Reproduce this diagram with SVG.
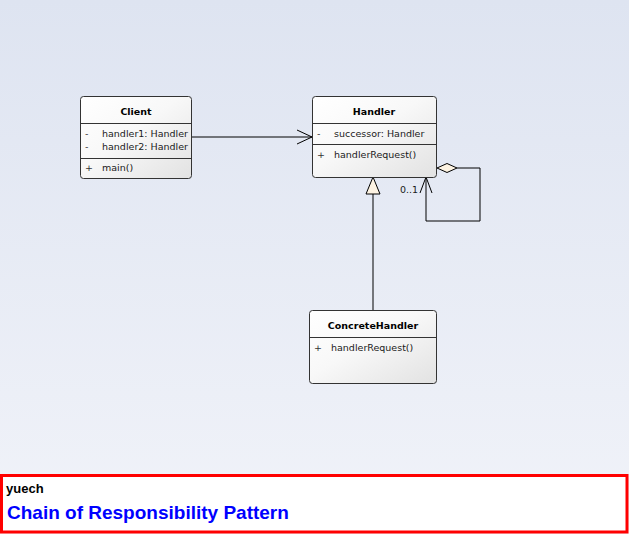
<svg xmlns="http://www.w3.org/2000/svg" width="629" height="534" viewBox="0 0 629 534">
<defs>
<linearGradient id="bg" x1="0" y1="0" x2="0" y2="1">
<stop offset="0" stop-color="#dee4f1"/>
<stop offset="1" stop-color="#f1f3f9"/>
</linearGradient>
<linearGradient id="box" x1="0" y1="0" x2="1" y2="1">
<stop offset="0" stop-color="#ffffff"/>
<stop offset="0.45" stop-color="#f8f8f8"/>
<stop offset="1" stop-color="#e2e2e2"/>
</linearGradient>
<style>
.cls{fill:url(#box);stroke:#333;stroke-width:1}
.div{stroke:#333;stroke-width:1}
.t{font-family:"DejaVu Sans","Liberation Sans",sans-serif;font-size:9.5px;fill:#1a1a1a}
.b{font-weight:bold;text-anchor:middle;fill:#000}
.v{fill:#333}
.ln{fill:none;stroke:#000;stroke-width:1}
</style>
</defs>
<rect x="0" y="0" width="629" height="534" fill="url(#bg)"/>

<g id="connectors">
<line class="ln" x1="192" y1="137" x2="312" y2="137"/>
<polyline class="ln" points="297,130 312,137 297,144"/>
<polyline class="ln" points="457,168 480,168 480,221 426,221 426,177"/>
<polyline class="ln" points="420,193 426,177 432,193"/>
<polygon points="437,168 447,163.5 457,168 447,172.5" fill="#fdf3e2" stroke="#000" stroke-width="1"/>
<text class="t" x="400" y="193">0..1</text>
<line class="ln" x1="373" y1="194" x2="373" y2="311"/>
<polygon points="373,177 380,194 366,194" fill="#fdf3e2" stroke="#000" stroke-width="1"/>
</g>

<g id="Client">
<rect class="cls" x="80.5" y="96.5" width="111" height="82" rx="3"/>
<line class="div" x1="80.5" y1="123.5" x2="191.5" y2="123.5"/>
<line class="div" x1="80.5" y1="158.5" x2="191.5" y2="158.5"/>
<text class="t b" x="136" y="115">Client</text>
<text class="t v" x="85" y="137">-</text>
<text class="t" x="102" y="137">handler1: Handler</text>
<text class="t v" x="85" y="150">-</text>
<text class="t" x="102" y="150">handler2: Handler</text>
<text class="t v" x="85" y="171">+</text>
<text class="t" x="102" y="171">main()</text>
</g>

<g id="Handler">
<rect class="cls" x="312.5" y="96.5" width="124" height="81" rx="3"/>
<line class="div" x1="312.5" y1="123.5" x2="436.5" y2="123.5"/>
<line class="div" x1="312.5" y1="144.5" x2="436.5" y2="144.5"/>
<text class="t b" x="374" y="115">Handler</text>
<text class="t v" x="317" y="137">-</text>
<text class="t" x="334" y="137">successor: Handler</text>
<text class="t v" x="317" y="158">+</text>
<text class="t" x="334" y="158">handlerRequest()</text>
</g>

<g id="ConcreteHandler">
<rect class="cls" x="309.5" y="310.5" width="127" height="73" rx="3"/>
<line class="div" x1="309.5" y1="337.5" x2="436.5" y2="337.5"/>
<text class="t b" x="373" y="329">ConcreteHandler</text>
<text class="t v" x="314" y="351">+</text>
<text class="t" x="331" y="351">handlerRequest()</text>
</g>

<g id="footer">
<rect x="1.5" y="475.5" width="625.5" height="56.5" fill="#fff" stroke="#ff0000" stroke-width="3"/>
<text x="6" y="493" font-family="'Liberation Sans',Arial,sans-serif" font-size="13" font-weight="bold" fill="#000">yuech</text>
<text x="7" y="519" font-family="'Liberation Sans',Arial,sans-serif" font-size="19" font-weight="bold" fill="#0000ff">Chain of Responsibility Pattern</text>
</g>
</svg>
